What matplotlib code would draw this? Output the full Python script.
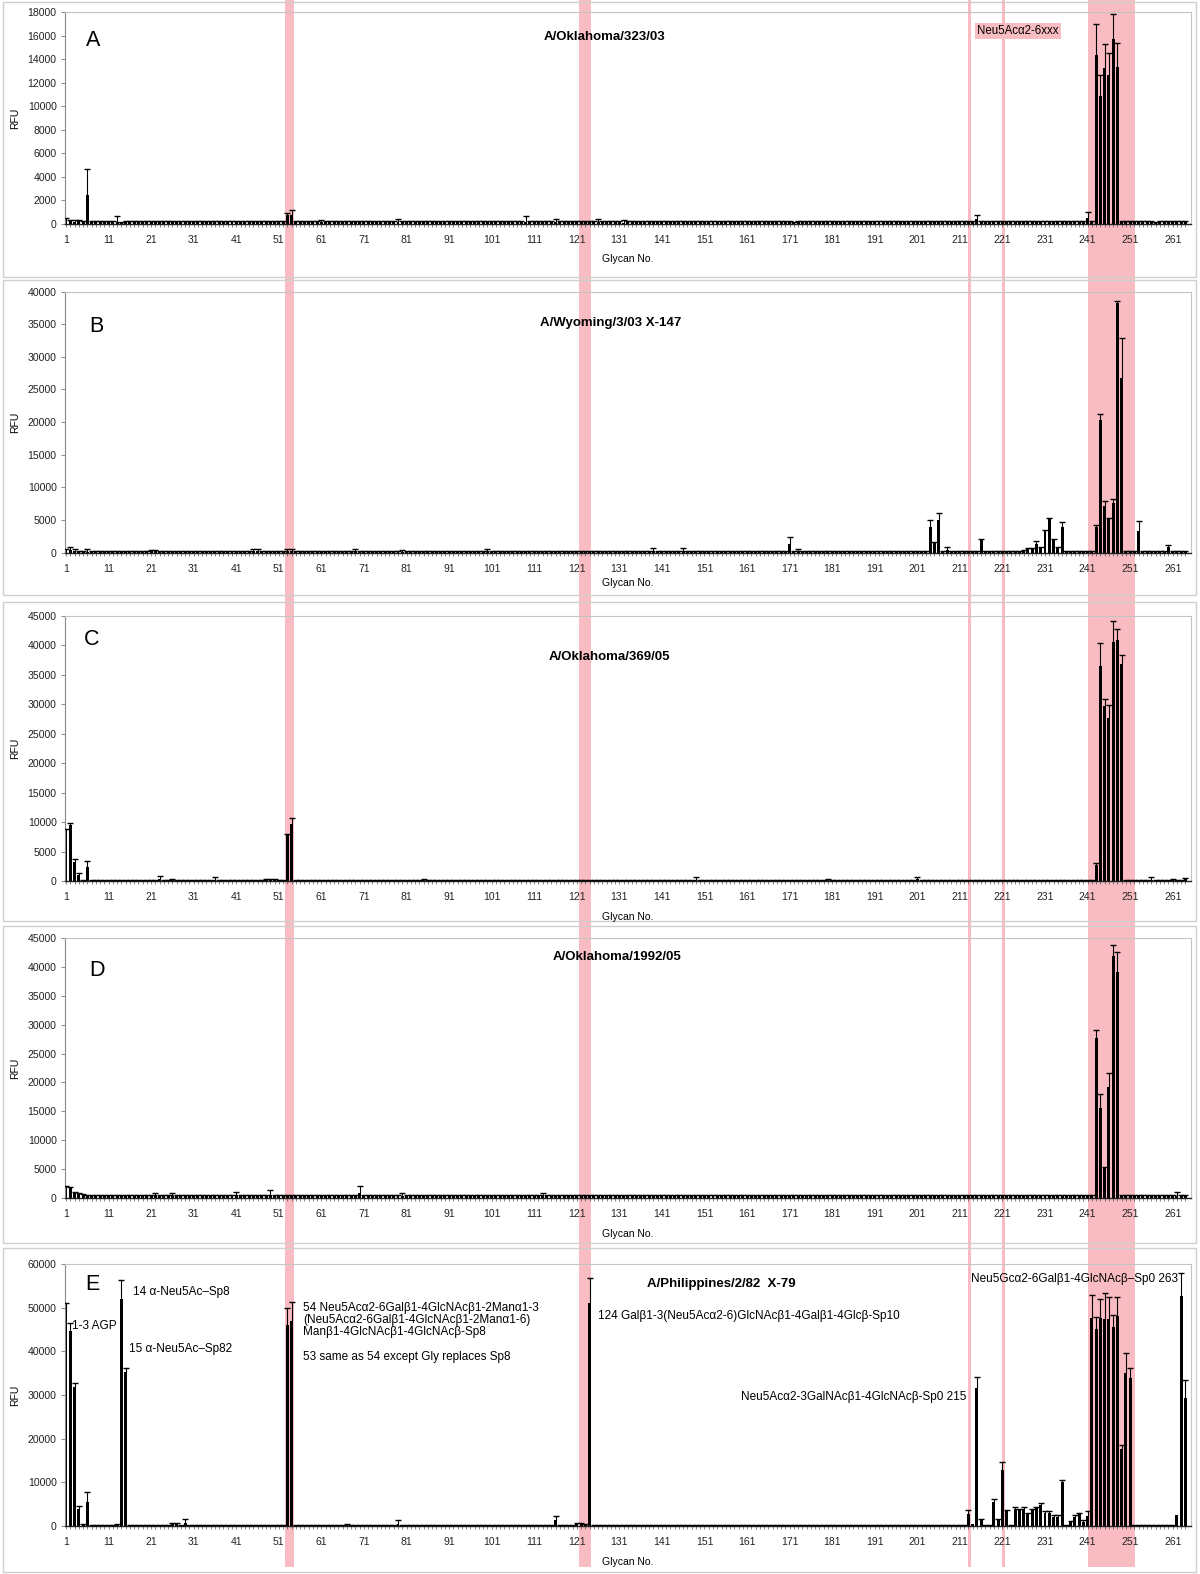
import numpy as np
import matplotlib
matplotlib.use("Agg")
import matplotlib.pyplot as plt
from matplotlib import ticker
from matplotlib.patches import Rectangle
from matplotlib.transforms import blended_transform_factory

plt.rcParams['font.family'] = ['Liberation Sans', 'DejaVu Sans']

W, H = 1200, 1574
n_glycans = 264
glycan_no = np.arange(1, n_glycans + 1)
tick_glycans = np.arange(1, 262, 10)

# highlighted glycan ranges (pink bands across all panels)
band_ranges = [(52.5, 54.6), (121.6, 124.4), (212.9, 213.6), (220.9, 221.7), (241.2, 252.2)]

letters = ['A', 'B', 'C', 'D', 'E']
titles = ['A/Oklahoma/323/03', 'A/Wyoming/3/03 X-147', 'A/Oklahoma/369/05',
          'A/Oklahoma/1992/05', 'A/Philippines/2/82  X-79']
ymaxes = [18000, 40000, 45000, 45000, 60000]
ysteps = [2000, 5000, 5000, 5000, 10000]

# panel A  (base = typical background value, error)
a_base = (150, 80)
a_idx = [1, 2, 3, 4, 6, 13, 14, 15, 26, 30, 39, 53, 54, 58, 61, 79, 109, 116, 126, 132,
         172, 205, 215, 226, 241, 243, 244, 245, 246, 247, 248, 250, 257]
a_val = [300, 250, 200, 250, 2500, 150, 100, 150, 150, 150, 150, 800, 800, 150, 150, 150, 200, 150, 150, 100,
         100, 150, 400, 150, 500, 14350, 10870, 13270, 12650, 15680, 13350, 150, 100]
a_err = [250, 100, 150, 100, 2200, 500, 100, 100, 80, 80, 80, 100, 350, 100, 150, 250, 500, 250, 300, 200,
         100, 100, 350, 100, 500, 2630, 1780, 1980, 1890, 2120, 1980, 100, 100]

# panel B
b_base = (150, 100)
b_idx = [1, 2, 3, 6, 21, 22, 45, 46, 53, 54, 69, 80, 100, 139, 146, 171, 173, 204, 205, 206,
         208, 216, 226, 227, 228, 229, 230, 231, 232, 233, 234, 235, 243, 244, 245, 246, 247, 248, 249,
         253, 260]
b_val = [300, 400, 300, 150, 200, 200, 300, 300, 200, 300, 200, 150, 200, 200, 300, 1330, 300, 3980, 1580, 5010,
         400, 1840, 300, 500, 500, 1330, 800, 3370, 5160, 1840, 700, 3880, 3880, 20340, 7200, 5160, 7560, 38200, 26770,
         3370, 800]
b_err = [300, 400, 200, 400, 150, 150, 300, 300, 300, 300, 300, 250, 300, 500, 400, 1120, 200, 1030, 100, 1020,
         400, 200, 100, 150, 150, 400, 100, 100, 100, 200, 200, 760, 260, 920, 660, 200, 670, 400, 6070,
         1430, 400]

# panel C
c_base = (150, 100)
c_idx = [1, 2, 3, 4, 6, 23, 26, 36, 48, 49, 50, 53, 54, 85, 149, 180, 201,
         243, 244, 245, 246, 247, 248, 249, 256, 261, 264]
c_val = [8370, 9510, 3280, 1020, 2460, 300, 250, 200, 250, 250, 250, 7810, 9630, 150, 200, 200, 300,
         2720, 36500, 29710, 27730, 40570, 40860, 36890, 200, 250, 300]
c_err = [510, 390, 400, 280, 940, 550, 150, 500, 100, 100, 100, 220, 1130, 150, 500, 100, 400,
         280, 3850, 1190, 2150, 3660, 1860, 1410, 400, 150, 200]

# panel D
d_base = (300, 250)
d_idx = [1, 2, 3, 4, 5, 6, 22, 26, 41, 49, 70, 80, 113, 243, 244, 245, 246, 247, 248, 262]
d_val = [1800, 1700, 900, 700, 600, 500, 500, 500, 600, 500, 900, 400, 600,
         27640, 15630, 5140, 19160, 41880, 39060, 400]
d_err = [200, 200, 200, 100, 100, 100, 400, 300, 500, 900, 1200, 400, 200,
         1440, 2370, 170, 2420, 1850, 3460, 600]

# panel E
e_base = (150, 80)
e_idx = [1, 2, 3, 4, 5, 6, 13, 14, 15, 26, 27, 29, 53, 54, 67, 79, 116, 121, 122, 123, 124,
         213, 214, 215, 216, 219, 220, 221, 222, 224, 225, 226, 227, 228, 229, 230, 231, 232, 233, 234, 235,
         237, 238, 239, 240, 241, 242, 243, 244, 245, 246, 247, 248, 249, 250, 251, 262, 263, 264]
e_val = [49460, 44730, 31900, 3800, 300, 5500, 400, 51960, 35200, 400, 400, 600, 46030, 46950, 300, 500, 1400,
         500, 500, 300, 51150,
         2750, 400, 31530, 1370, 5570, 1400, 12820, 3510, 3820, 3800, 3800, 2750, 3800, 4050, 4800, 3050, 3050,
         2140, 2000, 10150,
         1000, 2140, 2750, 1000, 2290, 47560, 45040, 47560, 47400, 47400, 45500, 48090, 17560, 35110, 33820,
         2520, 52670, 29240]
e_err = [1680, 1830, 770, 800, 100, 2300, 100, 4460, 900, 200, 200, 900, 3820, 4270, 100, 900, 1000,
         200, 300, 200, 5570,
         900, 0, 2520, 200, 530, 100, 1910, 150, 450, 200, 450, 200, 200, 300, 540, 450, 450, 400, 500, 380,
         100, 300, 300, 400, 1200, 5340, 2900, 4340, 5880, 4970, 2820, 4280, 990, 4590, 2280,
         0, 5190, 4200]

panels = [(a_base, a_idx, a_val, a_err), (b_base, b_idx, b_val, b_err), (c_base, c_idx, c_val, c_err),
          (d_base, d_idx, d_val, d_err), (e_base, e_idx, e_val, e_err)]

# layout in pixels
plot_tops = [12, 291.5, 616, 938, 1264]
plot_bottoms = [224, 552.5, 881, 1198, 1526]
boxes = [(2, 277), (280, 595), (602, 921), (926, 1243), (1248, 1572)]
title_pos = [(605, 37), (611, 323), (609, 657), (617, 957), (721, 1284)]
letter_pos = [(93, 41), (96, 326), (92, 640), (97, 970), (92, 1285)]
glycan_label_y = [259, 583, 917, 1234, 1562]
plot_left, plot_right = 65, 1191

pink = '#f9bcc2'
fig = plt.figure(figsize=(W / 100, H / 100), dpi=100)
fig.patch.set_facecolor('white')

def fx(x):
    return x / W

def fy(y):
    return 1 - y / H

axes = []
for i in range(5):
    base, idx, val, err = panels[i]
    vals = np.full(n_glycans, float(base[0]))
    errs = np.full(n_glycans, float(base[1]))
    vals[np.array(idx) - 1] = val
    errs[np.array(idx) - 1] = err

    top, bot = plot_tops[i], plot_bottoms[i]
    ax = fig.add_axes([fx(plot_left), fy(bot), (plot_right - plot_left) / W, (bot - top) / H])
    ax.set_facecolor('none')
    ax.bar(glycan_no, vals, width=0.7, color='black', zorder=2)
    m = errs > 0
    ax.vlines(glycan_no[m], vals[m], vals[m] + errs[m], color='black', lw=0.8, zorder=3)
    ax.plot(glycan_no[m], vals[m] + errs[m], ls='none', marker='_', ms=4.5, mew=1.0, color='black', zorder=3)

    ax.set_xlim(0.765, 265.3)
    ax.set_ylim(0, ymaxes[i])
    ax.set_yticks(np.arange(0, ymaxes[i] + 1, ysteps[i]))
    ax.yaxis.set_major_formatter(ticker.FormatStrFormatter('%d'))
    ax.set_xticks(tick_glycans)
    ax.set_xticklabels([str(t) for t in tick_glycans])
    ax.set_xticks(glycan_no, minor=True)
    ax.tick_params(axis='x', which='both', direction='out', length=2.5, width=0.5, color='#555555',
                   labelsize=7.5, pad=5.5, labelcolor='#222222')
    ax.tick_params(axis='y', direction='out', length=3, width=0.6, color='#777777',
                   labelsize=7.6, pad=3, labelcolor='#222222')
    for s in ['top', 'right']:
        ax.spines[s].set_color('#c4c4c4')
        ax.spines[s].set_linewidth(0.8)
    ax.spines['left'].set_color('#888888')
    ax.spines['left'].set_linewidth(0.8)
    ax.spines['bottom'].set_color('#222222')
    ax.spines['bottom'].set_linewidth(1.0)
    axes.append(ax)

    # panel frame
    fig.add_artist(Rectangle((fx(3), fy(boxes[i][1])), (1196 - 3) / W, (boxes[i][1] - boxes[i][0]) / H,
                             transform=fig.transFigure, fill=False, ec='#cfcfcf', lw=1.0, zorder=-0.5))

    fig.text(fx(title_pos[i][0]), fy(title_pos[i][1]), titles[i], ha='center', va='center',
             fontsize=9.5, fontweight='bold')
    fig.text(fx(letter_pos[i][0]), fy(letter_pos[i][1]), letters[i], ha='center', va='center', fontsize=15.5)
    fig.text(fx(15), fy((top + bot) / 2), 'RFU', rotation=90, ha='center', va='center', fontsize=7.5)
    fig.text(fx(628), fy(glycan_label_y[i]), 'Glycan No.', ha='center', va='center', fontsize=7.5)

# pink bands through all panels
trans = blended_transform_factory(axes[0].transData, fig.transFigure)
for lo, hi in band_ranges:
    fig.add_artist(Rectangle((lo, fy(1567)), hi - lo, (1567 - 0) / H, transform=trans,
                             fc=pink, ec='none', zorder=-1))

# panel A label box
fig.text(fx(977), fy(31), 'Neu5Ac\u03b12-6xxx', ha='left', va='center', fontsize=8.3,
         bbox=dict(boxstyle='square,pad=0.2', fc=pink, ec='none'))

# panel E annotations
notes = [
    (72, 1326, '1-3 AGP'),
    (133, 1292, '14 \u03b1-Neu5Ac\u2013Sp8'),
    (129, 1349, '15 \u03b1-Neu5Ac\u2013Sp82'),
    (303, 1308, '54 Neu5Ac\u03b12-6Gal\u03b21-4GlcNAc\u03b21-2Man\u03b11-3'),
    (303, 1320.5, '(Neu5Ac\u03b12-6Gal\u03b21-4GlcNAc\u03b21-2Man\u03b11-6)'),
    (303, 1332, 'Man\u03b21-4GlcNAc\u03b21-4GlcNAc\u03b2-Sp8'),
    (303, 1357, '53 same as 54 except Gly replaces Sp8'),
    (598, 1316, '124 Gal\u03b21-3(Neu5Ac\u03b12-6)GlcNAc\u03b21-4Gal\u03b21-4Glc\u03b2-Sp10'),
    (971, 1279, 'Neu5Gc\u03b12-6Gal\u03b21-4GlcNAc\u03b2\u2013Sp0 263'),
    (741, 1397, 'Neu5Ac\u03b12-3GalNAc\u03b21-4GlcNAc\u03b2-Sp0 215'),
]
for x, y, s in notes:
    fig.text(fx(x), fy(y), s, ha='left', va='center', fontsize=8.5)

fig.savefig('out.png', dpi=100)
